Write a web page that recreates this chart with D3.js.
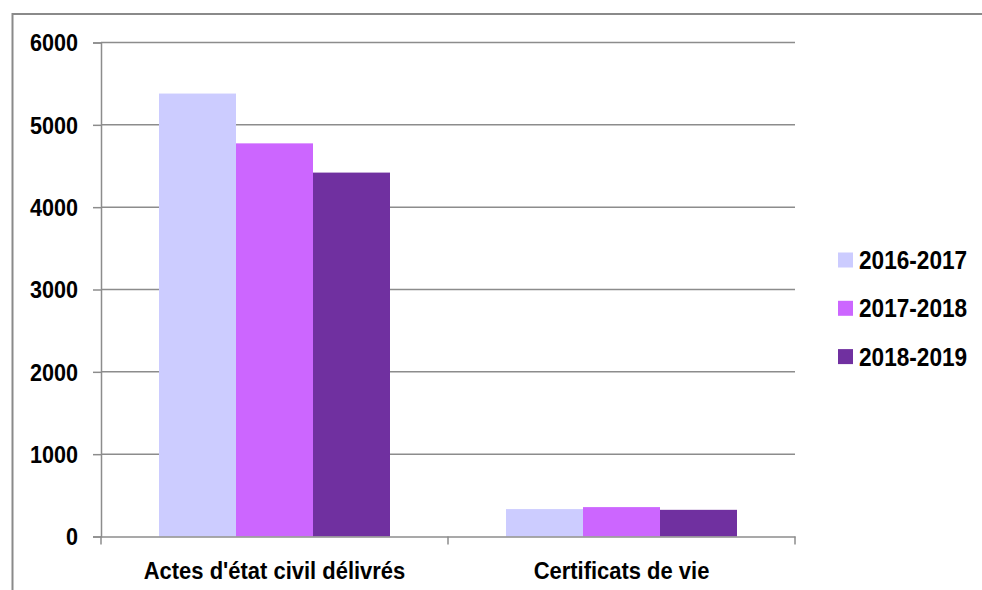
<!DOCTYPE html>
<html>
<head>
<meta charset="utf-8">
<script src="https://cdn.jsdelivr.net/npm/d3@7"></script>
<style>
  body { margin: 0; background: #fff; }
  text { font-family: "Liberation Sans", Arial, sans-serif; font-weight: bold; fill: #000; }
</style>
</head>
<body>
<svg id="chart" width="982" height="590"></svg>
<script>
var categories = ["Actes d'état civil délivrés", "Certificats de vie"];
var seriesNames = ["2016-2017", "2017-2018", "2018-2019"];
var v2016 = [5380, 333];
var v2017 = [4775, 357];
var v2018 = [4420, 324];
var colors = ["#CCCCFF", "#CC66FF", "#7030A0"];
var yTicks = [0, 1000, 2000, 3000, 4000, 5000, 6000];

var series = [v2016, v2017, v2018];

var svg = d3.select('#chart');
var margin = {left: 101, right: 187, top: 42.5, bottom: 53.5};
var w = 982 - margin.left - margin.right,
    h = 590 - margin.top - margin.bottom;

// outer frame (runs off right and bottom edges)
svg.append('rect')
  .attr('x', 12.5).attr('y', 14)
  .attr('width', 1000).attr('height', 1000)
  .style('fill', 'none')
  .style('stroke', '#8a8a8a')
  .style('stroke-width', 2)
;

var g = svg.append('g')
  .attr('transform', 'translate(' + margin.left + ',' + margin.top + ')');

var y = d3.scaleLinear().domain([0, 6000]).range([h, 0]);
var x0 = d3.scaleBand().domain(categories).range([0, w]).paddingInner(0).paddingOuter(0);
var x1 = d3.scaleBand().domain(seriesNames).range([58, x0.bandwidth() - 58]);

// gridlines
g.selectAll('line.grid')
  .data(yTicks.filter(function(d) { return d > 0; }))
  .enter().append('line')
  .classed('grid', true)
  .attr('x1', 0).attr('x2', w)
  .attr('y1', function(d) { return y(d); })
  .attr('y2', function(d) { return y(d); })
  .style('stroke', '#8c8c8c')
  .style('stroke-width', 1.5)
;

// bars
var groups = g.selectAll('g.cat')
  .data(categories)
  .enter().append('g')
  .classed('cat', true)
  .attr('transform', function(d) { return 'translate(' + x0(d) + ',0)'; })
;
groups.selectAll('rect')
  .data(function(d, i) {
    return seriesNames.map(function(s, j) { return {s: s, v: series[j][i], c: colors[j]}; });
  })
  .enter().append('rect')
  .attr('x', function(d) { return x1(d.s); })
  .attr('width', x1.bandwidth())
  .attr('y', function(d) { return y(d.v); })
  .attr('height', function(d) { return h - y(d.v); })
  .style('fill', function(d) { return d.c; })
;

// y axis
var yAxis = g.append('g')
  .call(d3.axisLeft(y).tickValues(yTicks).tickSize(8).tickPadding(15).tickFormat(d3.format('d')));
yAxis.selectAll('text')
  .style('font-size', '23.5px')
  .attr('x', 0)
  .attr('dy', '0.35em')
  .attr('transform', 'translate(-23,0) scale(0.92,1)')
;

// x axis
var xAxis = g.append('g')
  .attr('transform', 'translate(0,' + h + ')')
  .call(d3.axisBottom(x0).tickSize(0).tickPadding(0));
xAxis.selectAll('.tick line').remove();
xAxis.selectAll('text')
  .style('font-size', '24px')
  .attr('y', 0)
  .attr('dy', '0.35em')
  .attr('transform', 'translate(0,34) scale(0.915,1)')
;
xAxis.selectAll('line.sep')
  .data([0, x0.bandwidth(), w])
  .enter().append('line')
  .classed('sep', true)
  .attr('x1', function(d) { return d; }).attr('x2', function(d) { return d; })
  .attr('y1', 0).attr('y2', 8)
  .style('stroke', '#8c8c8c').style('stroke-width', 1.5)
;

[yAxis, xAxis].forEach(function(a) {
  a.selectAll('path.domain').style('stroke', '#8c8c8c').style('stroke-width', 1.5);
  a.selectAll('.tick line').style('stroke', '#8c8c8c').style('stroke-width', 1.5);
});

// legend
var legend = svg.append('g').attr('transform', 'translate(838,260)');
var items = legend.selectAll('g')
  .data(seriesNames)
  .enter().append('g')
  .attr('transform', function(d, i) { return 'translate(0,' + (i * 48.3) + ')'; })
;
items.append('rect')
  .attr('x', 0).attr('y', -7.5)
  .attr('width', 15).attr('height', 15)
  .style('fill', function(d, i) { return colors[i]; })
;
items.append('text')
  .attr('x', 0).attr('dy', '0.35em')
  .attr('transform', 'translate(21,0) scale(0.87,1)')
  .style('font-size', '26px')
  .text(function(d) { return d; })
;
</script>
</body>
</html>
